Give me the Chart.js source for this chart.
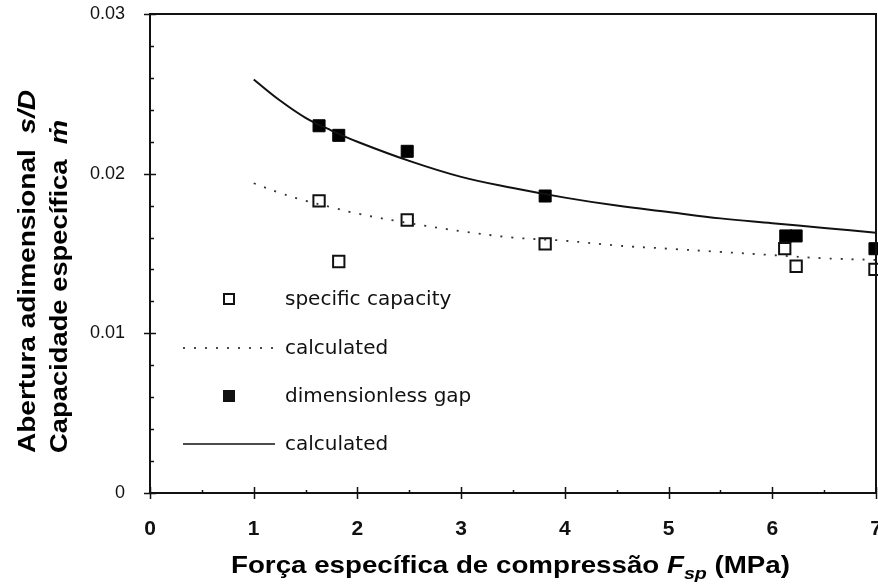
<!DOCTYPE html>
<html>
<head>
<meta charset="utf-8">
<script src="https://cdn.jsdelivr.net/npm/chart.js@4.4.0/dist/chart.umd.min.js"></script>
<style>
  html, body { margin: 0; padding: 0; background: #fff; }
  #wrap { width: 878px; height: 587px; }
</style>
</head>
<body>
<div id="wrap"><canvas id="grafico"></canvas></div>
<script>
// Pontos medidos: capacidade especifica (quadrados vazios)
const capX = [1.63, 1.82, 2.48, 3.81, 6.12, 6.23, 6.99];
const capY = [0.0183, 0.0145, 0.0171, 0.0156, 0.0153, 0.0142, 0.0140];

// Pontos medidos: abertura adimensional (quadrados cheios)
const gapX = [1.63, 1.82, 2.48, 3.81, 6.13, 6.23, 6.99];
const gapY = [0.0230, 0.0224, 0.0214, 0.0186, 0.0161, 0.0161, 0.0153];

// Curvas calculadas
const calcX = [1, 1.25, 1.5, 1.75, 2, 2.5, 3, 3.5, 4, 4.5, 5, 5.5, 6, 6.5, 7];
const calcCapY = [0.0194, 0.0188, 0.0183, 0.0179, 0.0175, 0.0169, 0.0164, 0.0160, 0.0158, 0.0155, 0.0153, 0.0151, 0.0149, 0.0147, 0.0146];
const calcGapY = [0.0259, 0.0246, 0.0235, 0.0227, 0.0220, 0.0208, 0.0198, 0.0191, 0.0185, 0.0180, 0.0176, 0.0172, 0.0169, 0.0166, 0.0163];

// Rotulos dos eixos
const xTicks = [0, 1, 2, 3, 4, 5, 6, 7];
const yTicks = [0, 0.01, 0.02, 0.03];

const legendItems = [
  { tipo: "aberto", texto: "specific capacity" },
  { tipo: "pontilhado", texto: "calculated" },
  { tipo: "cheio", texto: "dimensionless gap" },
  { tipo: "linha", texto: "calculated" },
];

function pares(xs, ys) {
  return xs.map((x, i) => ({ x: x, y: ys[i] }));
}

// Moldura, marcas dos eixos e legenda
const eixosPlugin = {
  id: "eixos",
  afterDraw(chart) {
    const ctx = chart.ctx;
    const a = chart.chartArea;
    const sx = chart.scales.x, sy = chart.scales.y;
    ctx.save();
    ctx.strokeStyle = "#111";
    ctx.lineWidth = 2;
    ctx.strokeRect(a.left, a.top, a.right - a.left, a.bottom - a.top);

    ctx.lineWidth = 1.5;
    ctx.beginPath();
    // marcas do eixo y
    for (let v = 0; v <= 0.0301; v += 0.002) {
      const p = Math.round(sy.getPixelForValue(v)) + 0.5;
      const maior = yTicks.some(t => Math.abs(t - v) < 1e-6);
      ctx.moveTo(maior ? a.left - 6 : a.left, p);
      ctx.lineTo(maior ? a.left + 6 : a.left + 4, p);
    }
    // marcas do eixo x
    for (let v = 0; v <= 7; v += 0.5) {
      const p = Math.round(sx.getPixelForValue(v)) + 0.5;
      const maior = Number.isInteger(v);
      ctx.moveTo(p, maior ? a.bottom + 6 : a.bottom);
      ctx.lineTo(p, maior ? a.bottom - 6 : a.bottom - 3);
    }
    ctx.stroke();

    // legenda
    const lx = 229, ly = [299, 348, 396, 444];
    ctx.font = '20px "DejaVu Sans"';
    ctx.fillStyle = "#111";
    ctx.textBaseline = "middle";
    legendItems.forEach((it, i) => {
      const y = ly[i];
      ctx.lineWidth = 2;
      if (it.tipo === "aberto") {
        ctx.strokeRect(lx - 5, y - 5, 10, 10);
      } else if (it.tipo === "cheio") {
        ctx.fillRect(lx - 6, y - 6, 12, 12);
      } else {
        ctx.beginPath();
        ctx.lineWidth = 1.5;
        ctx.setLineDash(it.tipo === "pontilhado" ? [2, 9] : []);
        ctx.moveTo(183, y);
        ctx.lineTo(275, y);
        ctx.stroke();
        ctx.setLineDash([]);
      }
      ctx.fillText(it.texto, 285, y + 1);
    });
    ctx.restore();
  }
};

// Titulos dos eixos com italico e subscrito
function escreve(ctx, partes, x, y, largura) {
  let total = 0;
  partes.forEach(p => { ctx.font = p.f; total += ctx.measureText(p.t).width; });
  const esc = largura / total;
  ctx.save();
  ctx.translate(x, y);
  ctx.scale(esc, 1);
  let cx = 0;
  partes.forEach(p => {
    ctx.font = p.f;
    ctx.fillText(p.t, cx, p.dy || 0);
    cx += ctx.measureText(p.t).width;
  });
  ctx.restore();
}

const titulosPlugin = {
  id: "titulos",
  afterDraw(chart) {
    const ctx = chart.ctx;
    const b = 'bold 24px "Liberation Sans"';
    const bi = 'italic bold 24px "Liberation Sans"';
    const sub = 'italic bold 17px "Liberation Sans"';
    ctx.save();
    ctx.fillStyle = "#000";
    ctx.textBaseline = "alphabetic";
    escreve(ctx, [
      { t: "Força específica de compressão ", f: b },
      { t: "F", f: bi },
      { t: "sp", f: sub, dy: 6 },
      { t: " (MPa)", f: b },
    ], 231, 573, 559);

    ctx.translate(0, 453);
    ctx.rotate(-Math.PI / 2);
    escreve(ctx, [
      { t: "Abertura adimensional  ", f: b },
      { t: "s/D", f: bi },
    ], 0, 35, 363);
    escreve(ctx, [
      { t: "Capacidade específica  ", f: b },
      { t: "ṁ", f: bi },
    ], 0, 67, 333);
    ctx.restore();
  }
};

const ctx = document.getElementById("grafico").getContext("2d");
const grafico = new Chart(ctx, {
  type: "scatter",
  data: {
    datasets: [
      {
        label: "calculated (gap)",
        data: pares(calcX, calcGapY),
        showLine: true,
        borderColor: "#111",
        borderWidth: 2,
        pointRadius: 0,
        tension: 0.4,
      },
      {
        label: "calculated (capacity)",
        data: pares(calcX, calcCapY),
        showLine: true,
        borderColor: "#333",
        borderWidth: 1.8,
        borderDash: [2, 9],
        pointRadius: 0,
        tension: 0.4,
      },
      {
        label: "specific capacity",
        data: pares(capX, capY),
        pointStyle: "rect",
        pointRadius: 8,
        pointBorderWidth: 2,
        pointBorderColor: "#111",
        pointBackgroundColor: "#fff",
        clip: false,
      },
      {
        label: "dimensionless gap",
        data: pares(gapX, gapY),
        pointStyle: "rect",
        pointRadius: 8.5,
        pointBorderWidth: 1,
        pointBorderColor: "#000",
        pointBackgroundColor: "#000",
        clip: false,
      },
    ]
  },
  options: {
    responsive: true,
    maintainAspectRatio: false,
    animation: false,
    layout: { autoPadding: false, padding: { top: 14, right: 2, left: 0, bottom: 0 } },
    plugins: {
      legend: { display: false },
      tooltip: { enabled: false },
    },
    scales: {
      x: {
        type: "linear",
        min: 0,
        max: 7,
        afterFit: s => { s.height = 94; s.paddingLeft = 0; s.paddingRight = 0; },
        afterBuildTicks: s => { s.ticks = xTicks.map(v => ({ value: v })); },
        grid: { display: false, drawTicks: false },
        border: { display: false },
        ticks: {
          padding: 24,
          color: "#111",
          font: { family: "Liberation Sans", size: 21, weight: "bold" },
        },
      },
      y: {
        type: "linear",
        min: 0,
        max: 0.03,
        afterFit: s => { s.width = 150; s.paddingTop = 0; s.paddingBottom = 0; },
        afterBuildTicks: s => { s.ticks = yTicks.map(v => ({ value: v })); },
        grid: { display: false, drawTicks: false },
        border: { display: false },
        ticks: {
          padding: 25,
          color: "#111",
          font: { family: "Liberation Sans", size: 18 },
          callback: v => v === 0 ? "0" : v.toFixed(2),
        },
      },
    },
  },
  plugins: [eixosPlugin, titulosPlugin],
});
</script>
</body>
</html>
